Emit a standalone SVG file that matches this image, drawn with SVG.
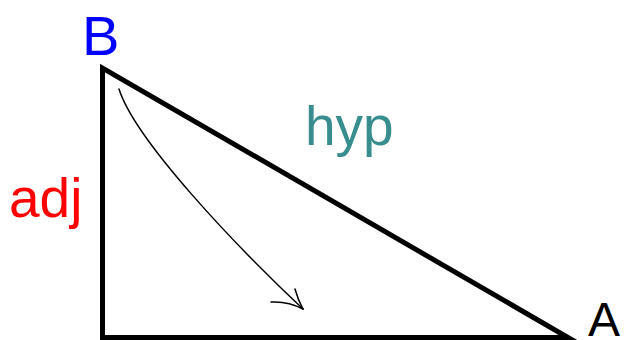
<svg xmlns="http://www.w3.org/2000/svg" width="626" height="340" viewBox="0 0 626 340">
<style>
text{font-family:"Liberation Sans",Arial,sans-serif;}
.tri{fill:none;stroke:#000;stroke-width:5;stroke-linejoin:miter;}
.arr{fill:none;stroke:#000;stroke-width:1.5;stroke-linecap:round;}
</style>
<rect width="626" height="340" fill="#fff"/>
<g id="triangle">
<polygon class="tri" points="102.5,68 102.5,337.5 568,337.5"/>
</g>
<g id="connectors">
<path class="arr" d="M119,89 C135,140 235,245 303,309"/>
<path class="arr" d="M295,289 Q298,300 303,309"/>
<path class="arr" d="M271,302 Q288,301 303,309"/>
</g>
<g id="label-B"><text x="82" y="55" font-size="56" fill="#0000ff">B</text></g>
<g id="label-hyp"><text x="305" y="145" font-size="55" fill="#388e8e">hyp</text></g>
<g id="label-adj"><text x="9" y="217" font-size="55" fill="#ff0000">adj</text></g>
<g id="label-A"><text x="588" y="336" font-size="48" fill="#000">A</text></g>
</svg>
